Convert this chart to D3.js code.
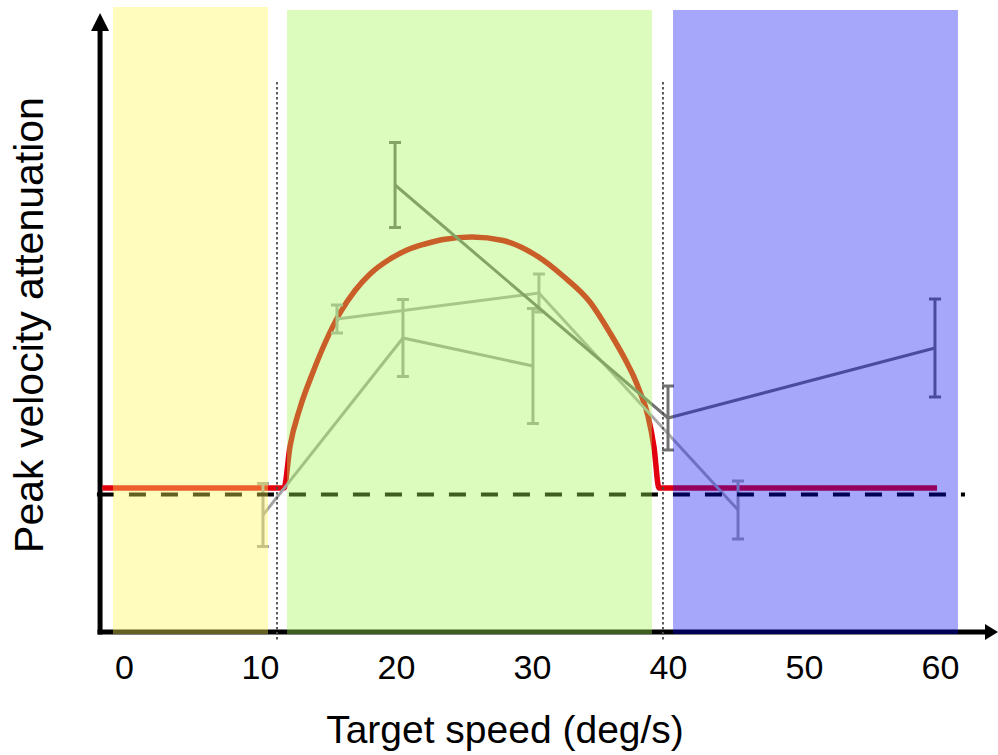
<!DOCTYPE html>
<html>
<head>
<meta charset="utf-8">
<script src="https://cdn.jsdelivr.net/npm/d3@7"></script>
<style>
  body { margin: 0; background: #fff; }
  svg { display: block; font-family: "Liberation Sans", Arial, sans-serif; }
</style>
</head>
<body>
<svg id="chart" width="998" height="755"></svg>
<script>
// tick labels on the speed axis
const speedTicks = [0, 10, 20, 30, 40, 50, 60];

// speed zones (shaded bands) and the dotted boundaries between them
const zoneNames = ["slow", "medium", "fast"];
const zoneStart = [-0.81, 11.99, 40.37];
const zoneEnd = [10.59, 38.82, 61.32];
const zoneTop = [1.95, 1.938, 1.938];
const boundarySpeeds = [11.25, 39.63];

// model curve
const modelSpeed = [-1.6, 11.76, 12.21, 12.94, 13.90, 14.78, 15.88, 16.99, 18.09, 19.56,
                    20.81, 22.13, 23.46, 25.59, 27.87, 30.37, 32.28, 34.26, 35.74, 36.99,
                    37.43, 37.94, 38.53, 38.97, 39.34, 59.78];
const modelAtten = [0.026, 0.026, 0.194, 0.346, 0.49, 0.606, 0.726, 0.816, 0.882, 0.942,
                    0.978, 1.002, 1.02, 1.03, 1.016, 0.954, 0.874, 0.77, 0.646, 0.526,
                    0.478, 0.41, 0.314, 0.19, 0.026, 0.026];

// measured series: speed, mean attenuation, error half-width
const speedA = [19.93, 40.0, 59.63];
const attenA = [1.238, 0.306, 0.586];
const errA   = [0.17, 0.128, 0.196];

const speedB = [15.66, 30.51, 45.15];
const attenB = [0.702, 0.806, -0.062];
const errB   = [0.056, 0.076, 0.116];

const speedC = [10.22, 20.51, 30.07];
const attenC = [-0.082, 0.626, 0.514];
const errC   = [0.126, 0.154, 0.23];

const zoneColor = { slow: "rgb(255,246,88)", medium: "rgb(163,247,84)", fast: "rgb(0,0,240)" };
const zoneOpacity = { slow: 0.39, medium: 0.38, fast: 0.35 };

const svg = d3.select("#chart");
const x = d3.scaleLinear().domain([0, 60]).range([124, 940]);
const y = d3.scaleLinear().domain([-0.55, 1.95]).range([632, 7]);

// axes with arrows
const axisG = svg.append("g");
const x0 = x(-1.76), yBase = y(-0.55);
axisG.append("line").attr("x1", x0).attr("x2", x0).attr("y1", yBase + 2.5).attr("y2", 28)
  .attr("stroke", "#000").attr("stroke-width", 5);
axisG.append("path").attr("d", `M${x0},13 L${x0 - 9},31 L${x0 + 9},31 Z`).attr("fill", "#000");
axisG.append("line").attr("x1", x0 - 2.5).attr("x2", 987).attr("y1", yBase).attr("y2", yBase)
  .attr("stroke", "#000").attr("stroke-width", 5);
axisG.append("path").attr("d", `M998,${yBase} L985,${yBase - 8} L985,${yBase + 8} Z`).attr("fill", "#000");

const xAxis = d3.axisBottom(x).tickValues(speedTicks).tickSize(0).tickPadding(0);
const xg = svg.append("g").attr("transform", `translate(0,${yBase})`).call(xAxis);
xg.select(".domain").remove();
xg.selectAll("text").attr("dy", null).attr("y", 47)
  .attr("font-size", 34).attr("font-family", "Liberation Sans, Arial, sans-serif").attr("fill", "#000");

svg.append("text").attr("x", 505).attr("y", 743).attr("text-anchor", "middle")
  .attr("font-size", 39).text("Target speed (deg/s)");
svg.append("text").attr("transform", "translate(43,325) rotate(-90)").attr("text-anchor", "middle")
  .attr("font-size", 41).text("Peak velocity attenuation");

// model curve
const modelPts = modelSpeed.map((s, i) => [s, modelAtten[i]]);
svg.append("path").datum(modelPts)
  .attr("d", d3.line().x(d => x(d[0])).y(d => y(d[1])).curve(d3.curveMonotoneX))
  .attr("fill", "none").attr("stroke", "#e2000f").attr("stroke-width", 5.5);

// measured series with error bars
const series = [
  { s: speedC, a: attenC, e: errC, color: "#a2a2a2" },
  { s: speedB, a: attenB, e: errB, color: "#aaaaaa" },
  { s: speedA, a: attenA, e: errA, color: "#727272" }
];
const line = d3.line().x(d => x(d.s)).y(d => y(d.a));
series.forEach(ser => {
  const pts = ser.s.map((s, i) => ({ s: s, a: ser.a[i], e: ser.e[i] }));
  const g = svg.append("g").attr("stroke", ser.color).attr("fill", "none").attr("stroke-width", 3);
  g.append("path").attr("d", line(pts));
  const bars = g.selectAll("g.err").data(pts).join("g").attr("class", "err");
  bars.append("line").attr("x1", d => x(d.s)).attr("x2", d => x(d.s))
    .attr("y1", d => y(d.a - d.e)).attr("y2", d => y(d.a + d.e));
  bars.append("line").attr("x1", d => x(d.s) - 6).attr("x2", d => x(d.s) + 6)
    .attr("y1", d => y(d.a + d.e)).attr("y2", d => y(d.a + d.e));
  bars.append("line").attr("x1", d => x(d.s) - 6).attr("x2", d => x(d.s) + 6)
    .attr("y1", d => y(d.a - d.e)).attr("y2", d => y(d.a - d.e));
});

// baseline (no attenuation)
svg.append("line").attr("x1", x(-1.99)).attr("x2", x(61.84)).attr("y1", y(0)).attr("y2", y(0))
  .attr("stroke", "#000").attr("stroke-width", 4).attr("stroke-dasharray", "17,15");

// dotted zone boundaries
svg.selectAll("line.boundary").data(boundarySpeeds).join("line").attr("class", "boundary")
  .attr("x1", d => x(d)).attr("x2", d => x(d)).attr("y1", y(1.65)).attr("y2", y(-0.582))
  .attr("stroke", "#4a4a4a").attr("stroke-width", 1.8).attr("stroke-dasharray", "2.5,2.5");

// translucent zone bands on top
svg.selectAll("rect.zone").data(zoneNames).join("rect").attr("class", "zone")
  .attr("x", (d, i) => x(zoneStart[i]))
  .attr("width", (d, i) => x(zoneEnd[i]) - x(zoneStart[i]))
  .attr("y", (d, i) => y(zoneTop[i]))
  .attr("height", (d, i) => y(-0.558) - y(zoneTop[i]))
  .attr("fill", d => zoneColor[d]).attr("fill-opacity", d => zoneOpacity[d]);
</script>
</body>
</html>
